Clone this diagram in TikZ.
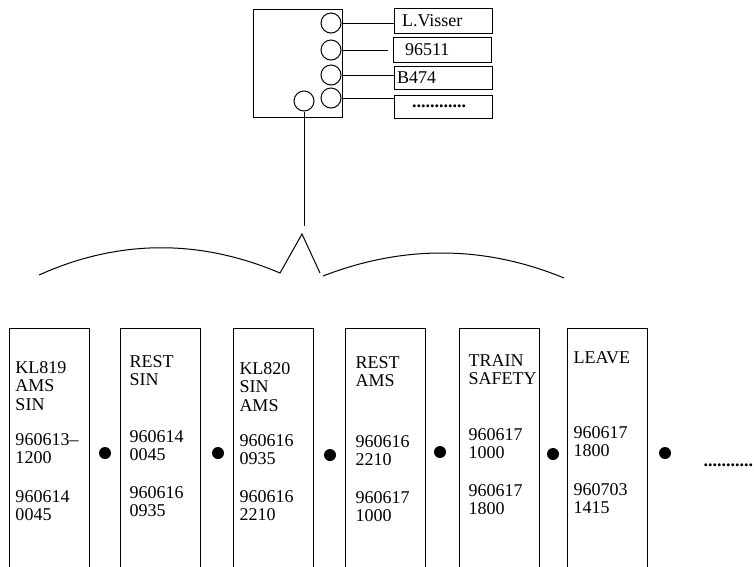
\documentclass[tikz,border=0pt]{standalone}
\usepackage{fontspec}
\setmainfont{Liberation Serif}
\usetikzlibrary{positioning}

\begin{document}
\begin{tikzpicture}[x=1pt,y=-1pt,line width=1pt,
  t/.style={font=\fontsize{18}{18.5}\selectfont},
  card/.style={draw,minimum width=89pt,minimum height=108pt,inner sep=0pt},
  plug/.style={draw,circle,minimum size=20pt,inner sep=0pt},
  tag/.style={t,draw,text width=98pt,minimum height=25pt,inner sep=0pt,align=left},
  col/.style={draw,line width=1.2pt,minimum width=80pt,minimum height=300pt,anchor=north west,inner sep=0pt},
  txt/.style={t,align=left,anchor=north west,inner sep=0pt},
  dot/.style={circle,fill,minimum size=12pt,inner sep=0pt}]
  \clip (0,0) rectangle (754,566);
  % the card and its fields
  \node[card] (card) at (297.5,63) {};
  \node[plug] (c1) at (331,23) {};
  \node[plug] (c2) at (331,50) {};
  \node[plug] (c3) at (331,75) {};
  \node[plug] (c4) at (331,98) {};
  \node[plug] (c5) at (304,101) {};
  \node[tag] (n1) at (443,20.5) {\hspace*{8pt}L.Visser};
  \node[tag] (n2) at (442,49.5) {\hspace*{12pt}96511};
  \node[tag,minimum height=23pt] (n3) at (443,77.5) {\hspace*{3pt}B474};
  \node[tag,minimum height=23pt] (n4) at (443,106.5) {\hspace*{18pt}\textbf{............}};
  \coordinate (gap) at (388,52);
  \draw (c1.east) -- (c1.east -| n1.west);
  \draw (c2.east) -- (c2.east -| gap);
  \draw (c3.east) -- (c3.east -| n3.west);
  \draw (c4.east) -- (c4.east -| n4.west);
  % stem and brace
  \coordinate (stem) at (304,226);
  \coordinate (top) at (302,234);
  \draw (c5.south) -- (stem);
  \draw (39,275) .. controls (119,239) and (200,239) .. (280,273) -- (top) -- (320,273);
  \draw (323,276) .. controls (403,245) and (484,245) .. (564,278);
  % the records
  \node[col] (b1) at (9,328) {};
  \node[col] (b2) at (120,328) {};
  \node[col] (b3) at (233,328) {};
  \node[col] (b4) at (345,328) {};
  \node[col] (b5) at (459,328) {};
  \node[col] (b6) at (567,328) {};
  \node[txt] (r1) at (15,361) {KL819\\AMS\\SIN\\[16.5pt]960613--\\1200\\[20pt]960614\\0045};
  \node[txt] (r2) at (129,355) {REST\\SIN\\[38pt]960614\\0045\\[19pt]960616\\0935};
  \node[txt] (r3) at (239,362) {KL820\\SIN\\AMS\\[16.5pt]960616\\0935\\[19pt]960616\\2210};
  \node[txt] (r4) at (355,356) {REST\\AMS\\[42pt]960616\\2210\\[19pt]960617\\1000};
  \node[txt] (r5) at (468,354) {TRAIN\\SAFETY\\[37pt]960617\\1000\\[19pt]960617\\1800};
  \node[txt] (r6) at (573,351) {LEAVE\\[56.5pt]960617\\1800\\[20pt]960703\\1415};
  \node[dot] (d1) at (105,453) {};
  \node[dot] (d2) at (218,453) {};
  \node[dot] (d3) at (330,455) {};
  \node[dot] (d4) at (440,452) {};
  \node[dot] (d5) at (553,454) {};
  \node[dot] (d6) at (665,453) {};
  \node[t,anchor=base west,inner sep=0pt] (more) at (703,466) {\textbf{...........}};
\end{tikzpicture}
\end{document}
